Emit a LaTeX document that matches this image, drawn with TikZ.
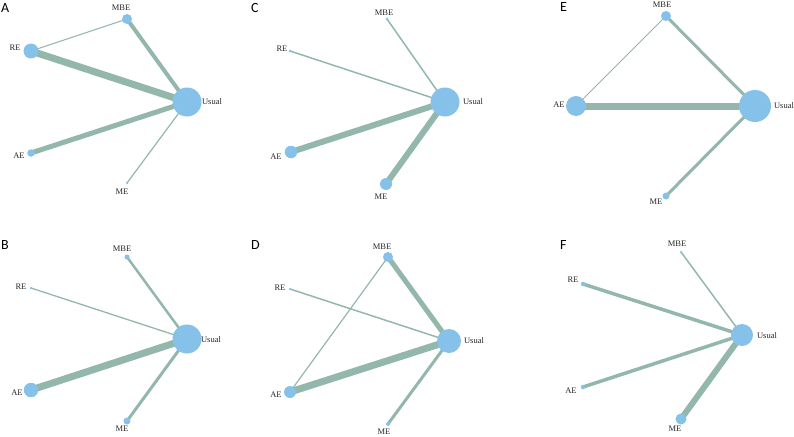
\documentclass[tikz,border=0pt]{standalone}
\usepackage{fontspec}
\setmainfont{Liberation Serif}
\newfontfamily\panelfont{Carlito}
\usetikzlibrary{backgrounds}
\definecolor{trtblue}{RGB}{133,193,233}
\definecolor{linkgreen}{RGB}{148,183,171}
\tikzset{
  trt/.style={circle,fill=trtblue,inner sep=0pt,minimum size=#1},
  lbl/.style={inner sep=0pt,text=black!85,font=\fontsize{8.5}{9}\selectfont},
  link/.style={draw=linkgreen,line width=#1},
  panel/.style={inner sep=0pt,anchor=west,font=\panelfont\fontsize{14}{15}\selectfont}
}
\begin{document}
\begin{tikzpicture}[x=1pt,y=-1pt,line cap=butt]
  \useasboundingbox (0,0) rectangle (794,436);
  % A
  \node[panel] (pA) at (1,8) {A};
  \node[trt=29pt] (aU) at (187,102) {};
  \node[trt=15pt] (aRE) at (31,51) {};
  \node[trt=10pt] (aMBE) at (127,19) {};
  \node[trt=7.5pt] (aAE) at (31,153) {};
  \node[trt=2.5pt] (aME) at (127,183) {};
  \node[lbl] (aUl) at (212,102) {Usual};
  \node[lbl] (aREl) at (15,48) {RE};
  \node[lbl] (aMBEl) at (121,8) {MBE};
  \node[lbl] (aAEl) at (19,156) {AE};
  \node[lbl] (aMEl) at (122,192) {ME};
  \begin{scope}[on background layer]
    \draw[link=1pt] (aRE.center)--(aMBE.center);
    \draw[link=4pt] (aMBE.center)--(aU.center);
    \draw[link=7pt] (aRE.center)--(aU.center);
    \draw[link=5pt] (aAE.center)--(aU.center);
    \draw[link=1.2pt] (aME.center)--(aU.center);
  \end{scope}
  % C
  \node[panel] (pC) at (251,8) {C};
  \node[trt=29pt] (cU) at (445,102) {};
  \node[trt=3pt] (cRE) at (290,51) {};
  \node[trt=3pt] (cMBE) at (387,19) {};
  \node[trt=12.5pt] (cAE) at (291,152) {};
  \node[trt=12pt] (cME) at (386,184) {};
  \node[lbl] (cUl) at (473,102) {Usual};
  \node[lbl] (cREl) at (282,49) {RE};
  \node[lbl] (cMBEl) at (384,13) {MBE};
  \node[lbl] (cAEl) at (276,157) {AE};
  \node[lbl] (cMEl) at (381,197) {ME};
  \begin{scope}[on background layer]
    \draw[link=1.5pt] (cMBE.center)--(cU.center);
    \draw[link=1.5pt] (cRE.center)--(cU.center);
    \draw[link=6pt] (cAE.center)--(cU.center);
    \draw[link=6pt] (cME.center)--(cU.center);
  \end{scope}
  % E
  \node[panel] (pE) at (560,7) {E};
  \node[trt=32pt] (eU) at (755,106) {};
  \node[trt=10pt] (eMBE) at (666,16) {};
  \node[trt=20pt] (eAE) at (576,106) {};
  \node[trt=7pt] (eME) at (666,196) {};
  \node[lbl] (eUl) at (784,106) {Usual};
  \node[lbl] (eMBEl) at (662,5) {MBE};
  \node[lbl] (eAEl) at (559,105) {AE};
  \node[lbl] (eMEl) at (656,202) {ME};
  \begin{scope}[on background layer]
    \draw[link=1pt] (eMBE.center)--(eAE.center);
    \draw[link=3pt] (eMBE.center)--(eU.center);
    \draw[link=7pt] (eAE.center)--(eU.center);
    \draw[link=3pt] (eME.center)--(eU.center);
  \end{scope}
  % B
  \node[panel] (pB) at (1,245) {B};
  \node[trt=29pt] (bU) at (187,339) {};
  \node[trt=5pt] (bMBE) at (127,257) {};
  \node[trt=2.5pt] (bRE) at (31,288) {};
  \node[trt=14.5pt] (bAE) at (31,390) {};
  \node[trt=7pt] (bME) at (127,421) {};
  \node[lbl] (bUl) at (211,340) {Usual};
  \node[lbl] (bMBEl) at (122,249) {MBE};
  \node[lbl] (bREl) at (21,287) {RE};
  \node[lbl] (bAEl) at (17,393) {AE};
  \node[lbl] (bMEl) at (122,429) {ME};
  \begin{scope}[on background layer]
    \draw[link=2.5pt] (bMBE.center)--(bU.center);
    \draw[link=1.3pt] (bRE.center)--(bU.center);
    \draw[link=7pt] (bAE.center)--(bU.center);
    \draw[link=3pt] (bME.center)--(bU.center);
  \end{scope}
  % D
  \node[panel] (pD) at (251,245) {D};
  \node[trt=24pt] (dU) at (449,341) {};
  \node[trt=10pt] (dMBE) at (388,257) {};
  \node[trt=2.5pt] (dRE) at (290,289) {};
  \node[trt=12pt] (dAE) at (290,392) {};
  \node[trt=4pt] (dME) at (388,424) {};
  \node[lbl] (dUl) at (474,341) {Usual};
  \node[lbl] (dMBEl) at (382,247) {MBE};
  \node[lbl] (dREl) at (280,288) {RE};
  \node[lbl] (dAEl) at (276,395) {AE};
  \node[lbl] (dMEl) at (384,432) {ME};
  \begin{scope}[on background layer]
    \draw[link=1.2pt] (dMBE.center)--(dAE.center);
    \draw[link=1.5pt] (dRE.center)--(dU.center);
    \draw[link=5pt] (dMBE.center)--(dU.center);
    \draw[link=7pt] (dAE.center)--(dU.center);
    \draw[link=3pt] (dME.center)--(dU.center);
  \end{scope}
  % F
  \node[panel] (pF) at (560,245) {F};
  \node[trt=22pt] (fU) at (742,335) {};
  \node[trt=2.5pt] (fMBE) at (681,252) {};
  \node[trt=4.5pt] (fRE) at (583,284) {};
  \node[trt=4.5pt] (fAE) at (583,387) {};
  \node[trt=11pt] (fME) at (681,419) {};
  \node[lbl] (fUl) at (767,336) {Usual};
  \node[lbl] (fMBEl) at (677,244) {MBE};
  \node[lbl] (fREl) at (573,280) {RE};
  \node[lbl] (fAEl) at (571,391) {AE};
  \node[lbl] (fMEl) at (675,429) {ME};
  \begin{scope}[on background layer]
    \draw[link=1.5pt] (fMBE.center)--(fU.center);
    \draw[link=3.5pt] (fRE.center)--(fU.center);
    \draw[link=3.5pt] (fAE.center)--(fU.center);
    \draw[link=6pt] (fME.center)--(fU.center);
  \end{scope}
\end{tikzpicture}
\end{document}
